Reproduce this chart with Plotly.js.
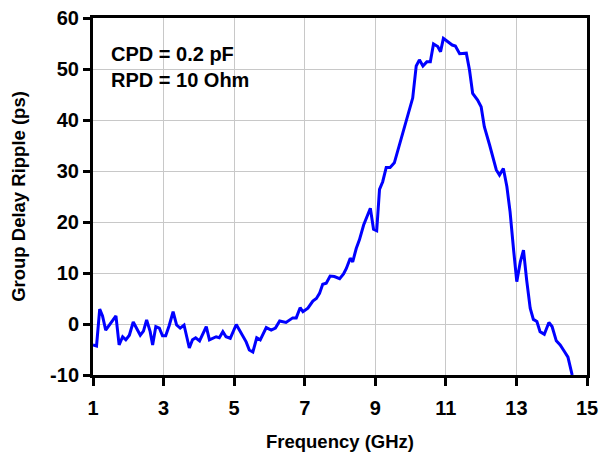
<!DOCTYPE html>
<html>
<head>
<meta charset="utf-8">
<script src="https://cdn.plot.ly/plotly-3.0.1.min.js"></script>
<style>html,body{margin:0;padding:0;background:#fff;}#chart{width:603px;height:452px;}</style>
</head>
<body>
<div id="chart"></div>
<script>
const freqGHz = [1.00,1.10,1.19,1.27,1.36,1.50,1.65,1.74,1.84,1.93,2.03,2.14,2.24,2.34,2.43,2.52,2.62,2.69,2.78,2.88,2.97,3.06,3.16,3.27,3.37,3.47,3.58,3.66,3.73,3.82,3.91,4.02,
  4.21,4.30,4.49,4.58,4.68,4.77,4.89,5.06,5.20,5.34,5.43,5.53,5.64,5.74,5.91,6.05,6.17,6.29,6.47,6.66,6.76,6.87,6.95,7.09,7.23,7.33,7.42,7.51,7.61,7.72,7.84,7.99,
  8.10,8.18,8.29,8.36,8.46,8.55,8.67,8.79,8.86,8.95,9.04,9.12,9.21,9.31,9.42,9.54,9.69,9.83,9.92,10.06,10.16,10.25,10.35,10.46,10.56,10.65,10.77,10.85,10.93,
  11.05,11.18,11.27,11.39,11.58,11.67,11.76,11.90,12.00,12.09,12.24,12.33,12.43,12.52,12.63,12.73,12.82,12.92,13.01,13.11,13.20,13.29,13.39,13.48,13.58,13.67,
  13.79,13.92,14.01,14.13,14.24,14.36,14.46,14.58];
const rippleps = [-4.1,-4.3,2.9,1.6,-1.2,0.2,1.6,-4.1,-2.5,-3.1,-2.2,0.4,-0.8,-2.2,-1.4,0.8,-1.5,-4.1,-0.5,-0.8,-2.3,-2.3,-0.3,2.4,-0.2,-0.8,-0.2,-2.7,-4.7,-3.1,-2.7,-3.3,
  -0.5,-3.1,-2.5,-2.7,-1.5,-2.5,-2.8,-0.1,-1.8,-3.5,-5.1,-5.5,-2.7,-3.1,-0.7,-1.2,-0.8,0.6,0.3,1.2,1.2,3.2,2.4,3.1,4.5,5.0,6.0,7.8,8.0,9.4,9.3,8.9,
  9.8,10.9,12.9,12.2,14.8,16.5,19.4,21.7,22.7,18.6,18.3,26.4,27.9,30.7,30.7,31.6,35.4,39.0,41.0,44.3,50.6,51.8,50.6,51.4,51.4,54.9,54.4,53.4,56.0,
  55.4,54.7,54.5,53.0,53.1,49.8,45.2,43.9,42.6,38.7,35.1,32.5,30.2,29.2,30.5,26.9,22.0,14.5,8.3,12.2,14.5,8.6,3.1,0.9,0.5,-1.5,
  -2.0,0.3,-0.5,-3.3,-4.1,-5.4,-6.5,-10.0];
const xTicks = [1,3,5,7,9,11,13,15];
const yTicks = [-10,0,10,20,30,40,50,60];
const labels = ["CPD = 0.2 pF","RPD = 10 Ohm"];

const FONT = "Liberation Sans, Arial, sans-serif";
const trace = {x: freqGHz, y: rippleps, type: 'scatter', mode: 'lines',
  line: {color: '#0000ff', width: 3}, hoverinfo: 'none', cliponaxis: true};

const layout = {
  width: 603, height: 452,
  margin: {l: 93, r: 16, t: 18, b: 77},
  paper_bgcolor: '#fff', plot_bgcolor: '#fff',
  showlegend: false,
  xaxis: {range: [1, 15], tickvals: xTicks, ticktext: xTicks.map(String),
    showgrid: true, gridcolor: '#c8c8c8', gridwidth: 1,
    showline: true, linecolor: '#000', linewidth: 3, mirror: true,
    ticks: 'outside', ticklen: 8, tickwidth: 3, tickcolor: '#000',
    zeroline: false, ticklabelstandoff: 5,
    tickfont: {family: FONT, size: 20, color: '#000', weight: 'bold'},
    title: {text: 'Frequency (GHz)', font: {family: FONT, size: 18.5, color: '#000', weight: 'bold'}, standoff: 24}},
  yaxis: {range: [-10, 60], tickvals: yTicks, ticktext: yTicks.map(String),
    showgrid: true, gridcolor: '#c8c8c8', gridwidth: 1,
    showline: true, linecolor: '#000', linewidth: 3, mirror: true,
    ticks: 'outside', ticklen: 7, tickwidth: 3, tickcolor: '#000',
    zeroline: false,
    tickfont: {family: FONT, size: 20, color: '#000', weight: 'bold'},
    title: {text: 'Group Delay Ripple (ps)', font: {family: FONT, size: 18.5, color: '#000', weight: 'bold'}, standoff: 20}},
  annotations: [
    {xref: 'paper', yref: 'paper', x: 0.033, y: 0.9, xanchor: 'left', yanchor: 'middle', showarrow: false,
     text: labels[0], font: {family: FONT, size: 20, color: '#000', weight: 'bold'}},
    {xref: 'paper', yref: 'paper', x: 0.033, y: 0.826, xanchor: 'left', yanchor: 'middle', showarrow: false,
     text: labels[1], font: {family: FONT, size: 20, color: '#000', weight: 'bold'}}
  ]
};
Plotly.newPlot('chart', [trace], layout, {staticPlot: true, displayModeBar: false});
</script>
</body>
</html>
